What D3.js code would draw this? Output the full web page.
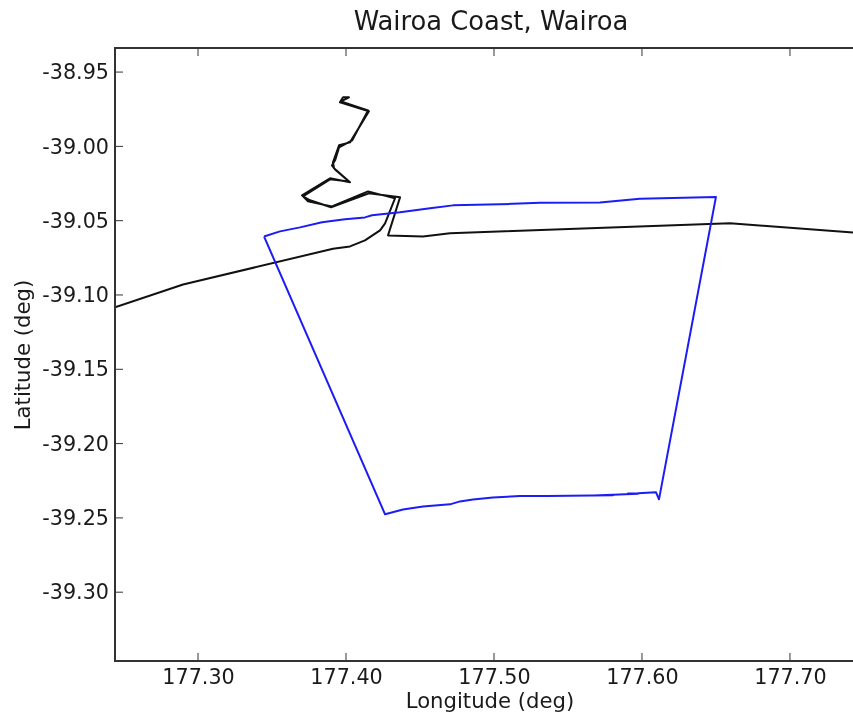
<!DOCTYPE html>
<html><head><meta charset="utf-8">
<script src="https://cdn.jsdelivr.net/npm/d3@7"></script>
<style>html,body{margin:0;padding:0;background:#fff;overflow:hidden}svg{display:block;filter:blur(0.35px)}text{font-family:"DejaVu Sans";fill:#1a1a1a}</style>
</head><body><svg id="c" width="853" height="717"></svg>
<script>
const chartTitle = "Wairoa Coast, Wairoa";
const xLabel = "Longitude (deg)";
const yLabel = "Latitude (deg)";
const xTicks = [177.30,177.40,177.50,177.60,177.70];
const yTicks = [-38.95,-39.00,-39.05,-39.10,-39.15,-39.20,-39.25,-39.30];
const coastLon = [177.2439,177.2899,177.3912,177.4027,177.4128,177.423,177.4264,177.4331,177.4149,177.3905,177.3743,177.3703,177.3892,177.4027,177.3919,177.3912,177.3953,177.4027,177.4155,177.3959,177.398,177.402,177.3966,177.4149,177.4041,177.3953,177.3926,177.3905,177.3926,177.402,177.3892,177.3709,177.3757,177.3899,177.4155,177.4365,177.4284,177.452,177.4703,177.6595,177.7426];
const coastLat = [-39.1083,-39.0929,-39.0689,-39.0673,-39.0633,-39.0565,-39.0518,-39.035,-39.0303,-39.0404,-39.037,-39.033,-39.0215,-39.0242,-39.0148,-39.0108,-38.9993,-38.9973,-38.9764,-38.9704,-38.967,-38.967,-38.9697,-38.9758,-38.996,-39.0007,-39.0094,-39.0128,-39.0155,-39.0236,-39.0222,-39.0336,-39.0363,-39.041,-39.0316,-39.0343,-39.0599,-39.0606,-39.0585,-39.0517,-39.0579];
const zoneLon = [177.3446,177.3554,177.3689,177.3838,177.3993,177.4128,177.4176,177.4365,177.4568,177.4723,177.5041,177.5311,177.5716,177.5986,177.65,177.6115,177.6095,177.5973,177.5905,177.5973,177.5804,177.5669,177.5804,177.5358,177.5176,177.4993,177.4858,177.477,177.4703,177.452,177.4385,177.4264,177.3446];
const zoneLat = [-39.0606,-39.0572,-39.0545,-39.0511,-39.0491,-39.0478,-39.0464,-39.0444,-39.0417,-39.0397,-39.039,-39.038,-39.0377,-39.0353,-39.034,-39.2375,-39.2328,-39.2335,-39.2336,-39.2338,-39.2344,-39.2349,-39.2347,-39.2352,-39.2353,-39.2362,-39.2377,-39.2389,-39.2409,-39.2423,-39.2443,-39.2476,-39.0606];

const margin = {left:115, top:48, right:853, bottom:661};
const x = d3.scaleLinear().domain([177.2439,177.7426]).range([margin.left,853]);
const y = d3.scaleLinear().domain([-38.9338,-39.3463]).range([margin.top,margin.bottom]);
const svg = d3.select("#c");
const plot = svg.append("g");
svg.append("defs").append("clipPath").attr("id","clip").append("rect")
  .attr("x",margin.left).attr("y",margin.top).attr("width",853-margin.left).attr("height",margin.bottom-margin.top);

const line = d3.line().x(d=>x(d[0])).y(d=>y(d[1]));
const g = plot.append("g").attr("clip-path","url(#clip)");
g.append("path").attr("d",line(coastLon.map((v,i)=>[v,coastLat[i]]))).attr("fill","none").attr("stroke","#111").attr("stroke-width",2).attr("stroke-linejoin","round");
g.append("path").attr("d",line(zoneLon.map((v,i)=>[v,zoneLat[i]]))).attr("fill","none").attr("stroke","#1c1cf5").attr("stroke-width",2).attr("stroke-linejoin","round");

const fontSize = 20.7;
const fmt = d => d3.format(".2f")(d).replace("\u2212","-");
const ax = svg.append("g").attr("transform",`translate(0,${margin.bottom})`)
  .call(d3.axisBottom(x).tickValues(xTicks).tickFormat(fmt).tickSize(0).tickPadding(8));
ax.select(".domain").remove();
ax.selectAll("text").attr("font-size",fontSize).style("font-family","DejaVu Sans").attr("fill","#1a1a1a");
const ay = svg.append("g").attr("transform",`translate(${margin.left},0)`)
  .call(d3.axisLeft(y).tickValues(yTicks).tickFormat(fmt).tickSize(0).tickPadding(6));
ay.select(".domain").remove();
ay.selectAll("text").attr("font-size",fontSize).style("font-family","DejaVu Sans").attr("fill","#1a1a1a");

const tickColor="#333";
svg.append("g").selectAll("line").data(xTicks).join("line").attr("x1",d=>x(d)).attr("x2",d=>x(d)).attr("y1",margin.bottom).attr("y2",margin.bottom-8).attr("stroke",tickColor);
svg.append("g").selectAll("line").data(xTicks).join("line").attr("x1",d=>x(d)).attr("x2",d=>x(d)).attr("y1",margin.top).attr("y2",margin.top+8).attr("stroke",tickColor);
svg.append("g").selectAll("line").data(yTicks).join("line").attr("x1",margin.left).attr("x2",margin.left+8).attr("y1",d=>y(d)).attr("y2",d=>y(d)).attr("stroke",tickColor);

svg.append("path").attr("d",`M853,${margin.top}H${margin.left}V${margin.bottom}H853`).attr("fill","none").attr("stroke","#333").attr("stroke-width",2);

svg.append("text").attr("x",491).attr("y",30).attr("text-anchor","middle").attr("font-size",25.8).text(chartTitle);
svg.append("text").attr("x",490).attr("y",708).attr("text-anchor","middle").attr("font-size",21.2).text(xLabel);
svg.append("text").attr("transform","translate(30,355) rotate(-90)").attr("text-anchor","middle").attr("font-size",21.2).text(yLabel);
</script></body></html>
